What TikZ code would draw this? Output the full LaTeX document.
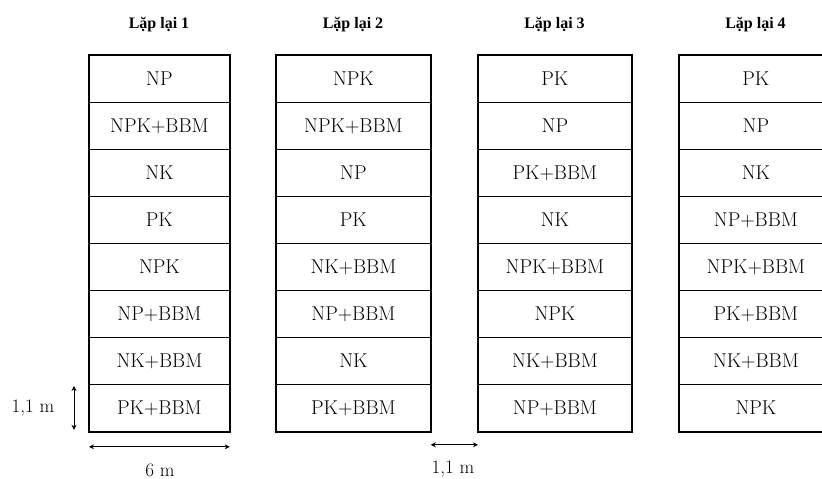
\documentclass[tikz,border=0pt]{standalone}
\usepackage{fontspec}
\newfontfamily\titlefont{Liberation Serif}
\usetikzlibrary{arrows.meta,positioning}
\tikzset{
  cell/.style    ={draw=black, line width=0.8pt, anchor=north west,
                   minimum height=47pt, inner sep=0pt,
                   font=\fontsize{20}{24}\selectfont},
  reptitle/.style={font=\titlefont\bfseries\fontsize{16}{19}\selectfont},
  frame/.style   ={draw=black, line width=2.6pt},
  dim/.style     ={{Stealth[length=5pt,width=5pt]}-{Stealth[length=5pt,width=5pt]},
                   line width=0.8pt},
  dimlabel/.style={font=\fontsize{19}{22}\selectfont, inner sep=0pt},
}

\begin{document}
\begin{tikzpicture}[x=1pt,y=-1pt]
  \clip (0,0) rectangle (822,479);

  % four repetitions, eight plots each
  \foreach \col/\x/\w/\items in {
      1/89/140/{NP,NPK+BBM,NK,PK,NPK,NP+BBM,NK+BBM,PK+BBM},
      2/276/154/{NPK,NPK+BBM,NP,PK,NK+BBM,NP+BBM,NK,PK+BBM},
      3/478/153/{PK,NP,PK+BBM,NK,NPK+BBM,NPK,NK+BBM,NP+BBM},
      4/679/153/{PK,NP,NK,NP+BBM,NPK+BBM,PK+BBM,NK+BBM,NPK}} {
    \node[reptitle] (t\col) at ({\x+\w/2},25) {Lặp lại \col};
    \foreach \lbl [count=\r] in \items
      \node[cell, minimum width=\w pt] (c\col-\r) at (\x,{55+47*(\r-1)}) {\lbl};
    \draw[frame] (c\col-1.north west) rectangle (c\col-8.south east);
  }

  % dimensions
  \draw[dim, shorten >=2pt, shorten <=2pt]
    ([xshift=-15pt]c1-8.north west) -- ([xshift=-15pt]c1-8.south west);
  \node[dimlabel] (h1) at (33,408) {1,1 m};
  \draw[dim] ([yshift=-15pt]c1-8.south west) -- ([yshift=-15pt]c1-8.south east);
  \node[dimlabel] (w1) at (160,470) {6 m};
  \draw[dim] ([yshift=-13pt]c2-8.south east) -- ([yshift=-13pt]c3-8.south west);
  \node[dimlabel] (g1) at (453,469) {1,1 m};
\end{tikzpicture}
\end{document}
